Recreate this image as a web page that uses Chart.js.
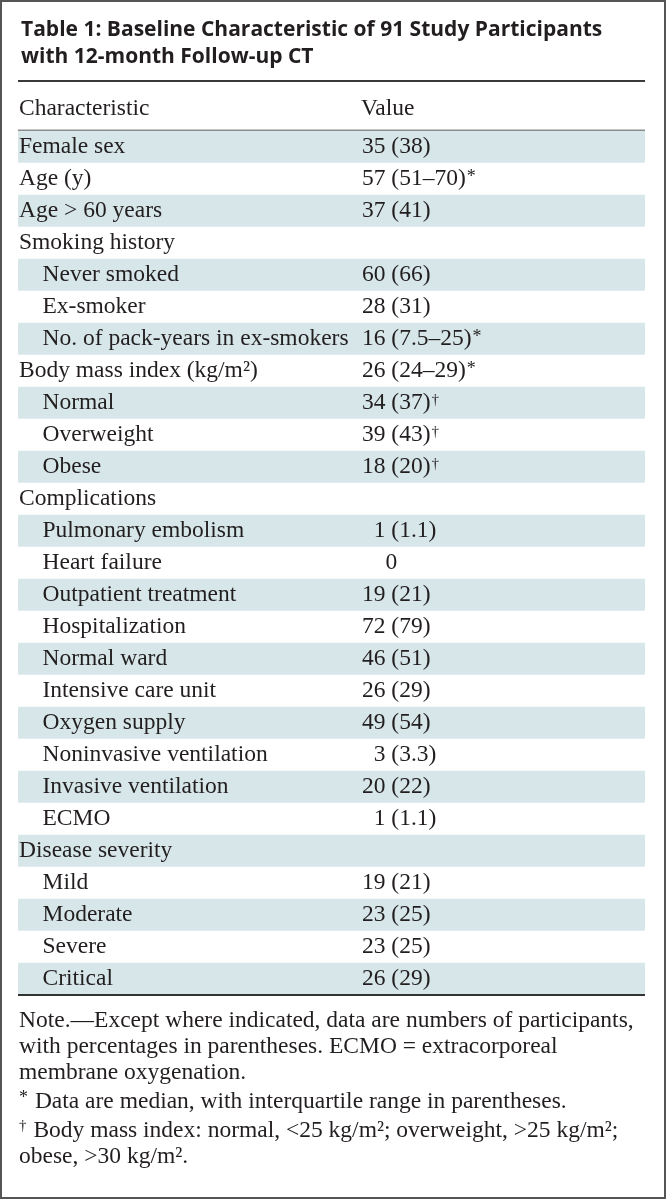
<!DOCTYPE html>
<html lang="en">
<head>
    <meta charset="UTF-8">
    <title>Table 1</title>
    <script src="https://cdn.jsdelivr.net/npm/chart.js"></script>
    <style>
        body { margin: 0; background: #fff; }
        canvas { display: block; }
    </style>
</head>
<body>
    <canvas id="myChart" width="666" height="1199"></canvas>

    <script>
        // Datos de la tabla
        const titleLines = [
            'Table 1: Baseline Characteristic of 91 Study Participants',
            'with 12-month Follow-up CT'
        ];
        const headers = ['Characteristic', 'Value'];

        const characteristics = [
            'Female sex', 'Age (y)', 'Age > 60 years', 'Smoking history',
            'Never smoked', 'Ex-smoker', 'No. of pack-years in ex-smokers',
            'Body mass index (kg/m²)', 'Normal', 'Overweight', 'Obese',
            'Complications', 'Pulmonary embolism', 'Heart failure',
            'Outpatient treatment', 'Hospitalization', 'Normal ward',
            'Intensive care unit', 'Oxygen supply', 'Noninvasive ventilation',
            'Invasive ventilation', 'ECMO', 'Disease severity',
            'Mild', 'Moderate', 'Severe', 'Critical'
        ];
        const rowLevel = [0, 0, 0, 0, 1, 1, 1, 0, 1, 1, 1, 0, 1, 1, 1, 1, 1, 1, 1, 1, 1, 1, 0, 1, 1, 1, 1];

        const values = [
            '35 (38)', '57 (51–70)', '37 (41)', '',
            '60 (66)', '28 (31)', '16 (7.5–25)',
            '26 (24–29)', '34 (37)', '39 (43)', '18 (20)',
            '', '\u20071 (1.1)', '\u2007\u20070',
            '19 (21)', '72 (79)', '46 (51)',
            '26 (29)', '49 (54)', '\u20073 (3.3)',
            '20 (22)', '\u20071 (1.1)', '',
            '19 (21)', '23 (25)', '23 (25)', '26 (29)'
        ];
        const valueMark = [
            '', '*', '', '', '', '', '*', '*', '†', '†', '†', '', '', '',
            '', '', '', '', '', '', '', '', '', '', '', '', ''
        ];

        // cada celda ocupa la fila completa
        const cellSpan = characteristics.map(() => 1);

        const notes = [
            ['Note.—Except where indicated, data are numbers of participants,',
             'with percentages in parentheses. ECMO = extracorporeal',
             'membrane oxygenation.'],
            ['* Data are median, with interquartile range in parentheses.'],
            ['† Body mass index: normal, <25 kg/m²; overweight, >25 kg/m²;',
             'obese, >30 kg/m².']
        ];

        // Estilos
        const SERIF = "'Liberation Serif', 'Times New Roman', serif";
        const TEXT = '#221e1f';
        const BAND = '#d7e7e9';
        const VALUE_COL = 0.5486;

        function markFont(m) {
            return (m === '*' ? '18px ' : '15px ') + SERIF;
        }

        function drawMarked(ctx, text, x, y) {
            // marca (* o †) pequeña y elevada al inicio
            const first = text.charAt(0);
            if (first === '*' || first === '†') {
                ctx.font = markFont(first);
                ctx.fillText(first, x, first === '*' ? y - 5 : y - 7);
                x += ctx.measureText(first).width + 1;
                text = text.slice(1);
            }
            ctx.font = '23.5px ' + SERIF;
            ctx.fillText(text, x, y);
        }

        const tableDecor = {
            id: 'tableDecor',
            beforeDraw(chart) {
                const ctx = chart.ctx;
                ctx.save();
                ctx.fillStyle = '#fff';
                ctx.fillRect(0, 0, chart.width, chart.height);
                ctx.restore();
            },
            afterDatasetsDraw(chart) {
                const ctx = chart.ctx;
                const area = chart.chartArea;
                const x = chart.scales.x;
                const y = chart.scales.y;
                const colX = x.getPixelForValue(VALUE_COL);

                ctx.save();
                ctx.fillStyle = TEXT;
                ctx.textAlign = 'left';

                // titulo
                ctx.textBaseline = 'alphabetic';
                ctx.font = "bold 21px 'Open Sans', sans-serif";
                titleLines.forEach((t, i) => ctx.fillText(t, area.left + 3, 36 + i * 27));

                // encabezado
                ctx.font = '23.5px ' + SERIF;
                ctx.fillText(headers[0], area.left + 1, area.top - 16);
                ctx.fillText(headers[1], colX - 1, area.top - 16);

                // valores
                values.forEach((v, i) => {
                    if (!v) return;
                    const cy = y.getPixelForValue(i);
                    ctx.font = '23.5px ' + SERIF;
                    const lead = v.match(/^\u2007*/)[0].length;
                    const text = v.slice(lead);
                    let tx = colX + lead * ctx.measureText('0').width;
                    ctx.textBaseline = 'middle';
                    ctx.fillText(text, tx, cy);
                    const m = valueMark[i];
                    if (m) {
                        tx += ctx.measureText(text).width;
                        ctx.textBaseline = 'alphabetic';
                        ctx.font = markFont(m);
                        ctx.fillText(m, tx + 1, m === '*' ? cy + 3 : cy + 1);
                    }
                });

                // lineas
                ctx.fillStyle = '#3a3a3a';
                ctx.fillRect(area.left, area.top - 51, area.right - area.left, 2);
                ctx.fillStyle = '#8c8c8c';
                ctx.fillRect(area.left, area.top - 1.5, area.right - area.left, 1.5);
                ctx.fillStyle = '#333';
                ctx.fillRect(area.left, area.bottom - 1, area.right - area.left, 2);

                // notas
                ctx.fillStyle = TEXT;
                ctx.textBaseline = 'alphabetic';
                let by = area.bottom + 32;
                notes.forEach((group, g) => {
                    if (g > 0) by += 3;
                    group.forEach(line => {
                        drawMarked(ctx, line, area.left + 1, by);
                        by += 26;
                    });
                });

                // marco
                ctx.strokeStyle = '#555';
                ctx.lineWidth = 2;
                ctx.strokeRect(1, 1, chart.width - 2, chart.height - 2);
                ctx.restore();
            }
        };

        const config = {
            type: 'bar',
            data: {
                labels: characteristics.map((c, i) => (rowLevel[i] ? '\u2003' : '') + c),
                datasets: [{
                    data: cellSpan,
                    backgroundColor: ctx => ctx.dataIndex % 2 === 0 ? BAND : '#fff',
                    borderWidth: 0,
                    barPercentage: 1,
                    categoryPercentage: 1
                }]
            },
            options: {
                indexAxis: 'y',
                responsive: false,
                animation: false,
                events: [],
                layout: { padding: { top: 131, bottom: 204, left: 16, right: 21 } },
                plugins: {
                    legend: { display: false },
                    title: { display: false },
                    tooltip: { enabled: false }
                },
                scales: {
                    x: { type: 'linear', min: 0, max: 1, display: false },
                    y: {
                        type: 'category',
                        grid: { display: false, drawTicks: false },
                        border: { display: false },
                        ticks: {
                            z: 1,
                            mirror: true,
                            padding: 1,
                            autoSkip: false,
                            color: TEXT,
                            font: { family: SERIF, size: 23.5 }
                        },
                        afterFit(scale) {
                            scale.paddingTop = 0;
                            scale.paddingBottom = 0;
                        }
                    }
                }
            },
            plugins: [tableDecor]
        };

        var myChart = new Chart(document.getElementById('myChart'), config);
    </script>
</body>
</html>
